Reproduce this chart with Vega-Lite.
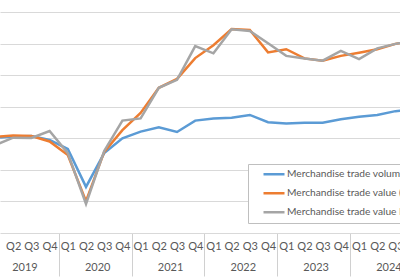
{
  "$schema": "https://vega.github.io/schema/vega-lite/v6.json",
  "width": 400,
  "height": 221,
  "autosize": {"type": "none"},
  "padding": {"left": 0, "top": 12, "right": 0, "bottom": 47},
  "background": "white",
  "config": {
    "view": {"stroke": null},
    "font": "Lato",
    "axis": {"labelFont": "Lato", "labelColor": "#595959", "labelFontSize": 11}
  },
  "datasets": {
    "series": [
      {"q": 0, "series": "Merchandise trade volume", "value": 100.1},
      {"q": 1, "series": "Merchandise trade volume", "value": 100.6},
      {"q": 2, "series": "Merchandise trade volume", "value": 100.7},
      {"q": 3, "series": "Merchandise trade volume", "value": 99.5},
      {"q": 4, "series": "Merchandise trade volume", "value": 96.6},
      {"q": 5, "series": "Merchandise trade volume", "value": 84.6},
      {"q": 6, "series": "Merchandise trade volume", "value": 95.3},
      {"q": 7, "series": "Merchandise trade volume", "value": 100.0},
      {"q": 8, "series": "Merchandise trade volume", "value": 102.1},
      {"q": 9, "series": "Merchandise trade volume", "value": 103.5},
      {"q": 10, "series": "Merchandise trade volume", "value": 102.0},
      {"q": 11, "series": "Merchandise trade volume", "value": 105.6},
      {"q": 12, "series": "Merchandise trade volume", "value": 106.3},
      {"q": 13, "series": "Merchandise trade volume", "value": 106.5},
      {"q": 14, "series": "Merchandise trade volume", "value": 107.4},
      {"q": 15, "series": "Merchandise trade volume", "value": 105.1},
      {"q": 16, "series": "Merchandise trade volume", "value": 104.7},
      {"q": 17, "series": "Merchandise trade volume", "value": 104.9},
      {"q": 18, "series": "Merchandise trade volume", "value": 104.9},
      {"q": 19, "series": "Merchandise trade volume", "value": 106.0},
      {"q": 20, "series": "Merchandise trade volume", "value": 106.8},
      {"q": 21, "series": "Merchandise trade volume", "value": 107.4},
      {"q": 22, "series": "Merchandise trade volume", "value": 108.6},
      {"q": 23, "series": "Merchandise trade volume", "value": 109.0},
      {"q": 0, "series": "Merchandise trade value  (US$)", "value": 100.4},
      {"q": 1, "series": "Merchandise trade value  (US$)", "value": 100.9},
      {"q": 2, "series": "Merchandise trade value  (US$)", "value": 100.7},
      {"q": 3, "series": "Merchandise trade value  (US$)", "value": 99.0},
      {"q": 4, "series": "Merchandise trade value  (US$)", "value": 94.7},
      {"q": 5, "series": "Merchandise trade value  (US$)", "value": 80.1},
      {"q": 6, "series": "Merchandise trade value  (US$)", "value": 95.7},
      {"q": 7, "series": "Merchandise trade value  (US$)", "value": 102.6},
      {"q": 8, "series": "Merchandise trade value  (US$)", "value": 108.0},
      {"q": 9, "series": "Merchandise trade value  (US$)", "value": 116.0},
      {"q": 10, "series": "Merchandise trade value  (US$)", "value": 118.8},
      {"q": 11, "series": "Merchandise trade value  (US$)", "value": 125.4},
      {"q": 12, "series": "Merchandise trade value  (US$)", "value": 129.5},
      {"q": 13, "series": "Merchandise trade value  (US$)", "value": 134.6},
      {"q": 14, "series": "Merchandise trade value  (US$)", "value": 134.3},
      {"q": 15, "series": "Merchandise trade value  (US$)", "value": 127.2},
      {"q": 16, "series": "Merchandise trade value  (US$)", "value": 128.2},
      {"q": 17, "series": "Merchandise trade value  (US$)", "value": 125.3},
      {"q": 18, "series": "Merchandise trade value  (US$)", "value": 124.6},
      {"q": 19, "series": "Merchandise trade value  (US$)", "value": 126.1},
      {"q": 20, "series": "Merchandise trade value  (US$)", "value": 127.1},
      {"q": 21, "series": "Merchandise trade value  (US$)", "value": 128.2},
      {"q": 22, "series": "Merchandise trade value  (US$)", "value": 129.9},
      {"q": 23, "series": "Merchandise trade value  (US$)", "value": 131.1},
      {"q": 0, "series": "Merchandise trade value NZ$", "value": 97.8},
      {"q": 1, "series": "Merchandise trade value NZ$", "value": 100.2},
      {"q": 2, "series": "Merchandise trade value NZ$", "value": 100.1},
      {"q": 3, "series": "Merchandise trade value NZ$", "value": 102.3},
      {"q": 4, "series": "Merchandise trade value NZ$", "value": 95.3},
      {"q": 5, "series": "Merchandise trade value NZ$", "value": 79.2},
      {"q": 6, "series": "Merchandise trade value NZ$", "value": 96.0},
      {"q": 7, "series": "Merchandise trade value NZ$", "value": 105.6},
      {"q": 8, "series": "Merchandise trade value NZ$", "value": 106.3},
      {"q": 9, "series": "Merchandise trade value NZ$", "value": 116.0},
      {"q": 10, "series": "Merchandise trade value NZ$", "value": 118.5},
      {"q": 11, "series": "Merchandise trade value NZ$", "value": 129.2},
      {"q": 12, "series": "Merchandise trade value NZ$", "value": 126.9},
      {"q": 13, "series": "Merchandise trade value NZ$", "value": 134.5},
      {"q": 14, "series": "Merchandise trade value NZ$", "value": 134.0},
      {"q": 15, "series": "Merchandise trade value NZ$", "value": 130.1},
      {"q": 16, "series": "Merchandise trade value NZ$", "value": 126.1},
      {"q": 17, "series": "Merchandise trade value NZ$", "value": 125.3},
      {"q": 18, "series": "Merchandise trade value NZ$", "value": 124.6},
      {"q": 19, "series": "Merchandise trade value NZ$", "value": 127.7},
      {"q": 20, "series": "Merchandise trade value NZ$", "value": 125.1},
      {"q": 21, "series": "Merchandise trade value NZ$", "value": 128.5},
      {"q": 22, "series": "Merchandise trade value NZ$", "value": 129.9},
      {"q": 23, "series": "Merchandise trade value NZ$", "value": 131.1}
    ],
    "years": [
      {"year": "2019", "mid": 1.5},
      {"year": "2020", "mid": 5.5},
      {"year": "2021", "mid": 9.5},
      {"year": "2022", "mid": 13.5},
      {"year": "2023", "mid": 17.5},
      {"year": "2024", "mid": 21.5}
    ]
  },
  "resolve": {"axis": {"x": "independent"}},
  "layer": [
    {
      "data": {"name": "years"},
      "mark": {"type": "rule", "opacity": 0},
      "encoding": {
        "x": {
          "field": "mid",
          "type": "quantitative",
          "scale": {"domain": [0.275, 22.25], "nice": false, "zero": false},
          "axis": {
            "orient": "bottom",
            "title": null,
            "values": [1.5, 5.5, 9.5, 13.5, 17.5, 21.5],
            "labelExpr": "toString(2019 + floor(datum.value / 4))",
            "domain": false,
            "grid": false,
            "ticks": true,
            "tickSize": 43,
            "tickColor": "#d0d0d0",
            "tickWidth": 1,
            "tickOffset": -36.4,
            "labelOffset": 38.5,
            "labelPadding": -15,
            "labelFlush": false,
            "labelOverlap": false
          }
        }
      }
    },
    {
      "data": {"name": "series"},
      "mark": {"type": "line", "strokeWidth": 2.5, "clip": true},
      "encoding": {
        "x": {
          "field": "q",
          "type": "quantitative",
          "scale": {"domain": [0.275, 22.25], "nice": false, "zero": false},
          "axis": {
            "orient": "bottom",
            "title": null,
            "values": [0, 1, 2, 3, 4, 5, 6, 7, 8, 9, 10, 11, 12, 13, 14, 15, 16, 17, 18, 19, 20, 21, 22, 23],
            "labelExpr": "'Q' + (datum.value % 4 + 1)",
            "domain": true,
            "domainColor": "#d9d9d9",
            "domainWidth": 1,
            "ticks": false,
            "grid": false,
            "labelPadding": 7,
            "labelFlush": false,
            "labelOverlap": false
          }
        },
        "y": {
          "field": "value",
          "type": "quantitative",
          "scale": {"domain": [70, 140], "nice": false, "zero": false},
          "axis": {
            "title": null,
            "values": [80, 90, 100, 110, 120, 130, 140],
            "labels": false,
            "ticks": false,
            "domain": false,
            "grid": true,
            "gridColor": "#d9d9d9",
            "gridWidth": 1
          }
        },
        "color": {
          "field": "series",
          "type": "nominal",
          "sort": ["Merchandise trade volume", "Merchandise trade value  (US$)", "Merchandise trade value NZ$"],
          "scale": {
            "domain": ["Merchandise trade volume", "Merchandise trade value  (US$)", "Merchandise trade value NZ$"],
            "range": ["#5b9bd5", "#ed7d31", "#a5a5a5"]
          },
          "legend": {
            "title": null,
            "orient": "none",
            "legendX": 248,
            "legendY": 152,
            "fillColor": "white",
            "strokeColor": "#bfbfbf",
            "padding": 1,
            "symbolType": "stroke",
            "symbolSize": 441,
            "symbolStrokeWidth": 2.5,
            "symbolOffset": 13,
            "labelOffset": 1,
            "labelFont": "Lato",
            "labelFontSize": 10.2,
            "labelColor": "#595959",
            "labelLimit": 400,
            "clipHeight": 18.3,
            "rowPadding": 0
          }
        }
      }
    }
  ]
}
